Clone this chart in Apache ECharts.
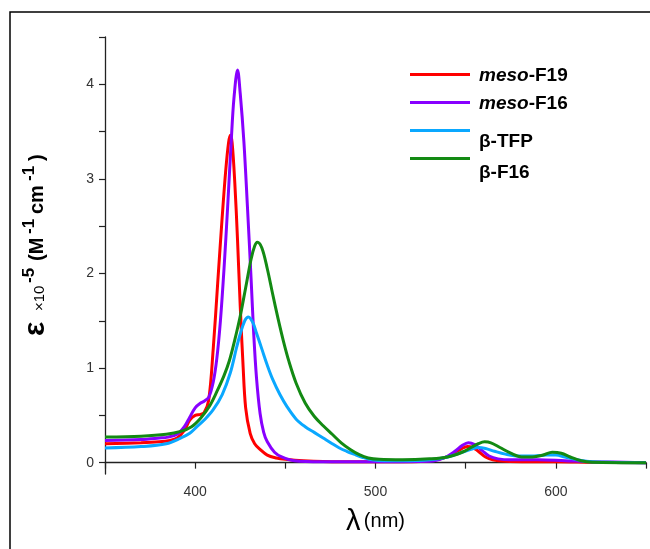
<!DOCTYPE html>
<html><head><meta charset="utf-8">
<script src="https://cdn.jsdelivr.net/npm/echarts@6/dist/echarts.min.js"></script>
<style>html,body{margin:0;padding:0;background:#fff}#c{width:650px;height:549px}</style>
</head><body><div id="c"></div>
<script>
// ---- data ----
const seriesNames = ['meso-F19', 'meso-F16', 'β-TFP', 'β-F16'];
const seriesColors = ['#ff0000', '#8800ff', '#0aa8ff', '#138a13'];

const lamF19 = [350,370,380,386,390,394,397,400,403,405,407.5,410,412.5,415,417,418.5,419.5,420.5,422,423.5,425,426.5,428,430.5,433,436,440,445,450,460,480,500,520,530,538,544,548,551,554,557,561,565,572,585,600,620,650];
const epsF19 = [0.20,0.21,0.22,0.235,0.26,0.34,0.45,0.50,0.51,0.53,0.66,1.20,1.90,2.60,3.10,3.38,3.46,3.38,2.95,2.35,1.65,1.05,0.58,0.31,0.20,0.14,0.08,0.05,0.035,0.02,0.01,0.01,0.01,0.02,0.05,0.10,0.15,0.17,0.16,0.12,0.06,0.03,0.015,0.01,0.01,0.005,0];

const lamF16 = [350,370,380,385,390,394,397,400,403,405,407.5,410,412,414,416,418,420,421.5,423.5,425,427,429,431,432.5,434,436,438,440,444,448,455,470,500,530,538,544,548,551.5,555,559,563,568,575,590,605,620,650];
const epsF16 = [0.235,0.245,0.26,0.27,0.30,0.38,0.48,0.58,0.63,0.65,0.69,0.85,1.10,1.50,2.05,2.70,3.40,3.85,4.15,3.90,3.40,2.70,1.95,1.35,0.90,0.52,0.32,0.22,0.11,0.06,0.02,0.01,0.01,0.015,0.05,0.12,0.18,0.21,0.19,0.13,0.07,0.04,0.03,0.03,0.02,0.01,0];

const lamTFP = [350,370,384,392,397,401,405,410,415,419.5,423,425,427.5,429.5,432,434,437,440,443,447,451,456,461,466,471,476,480,484,488,493,498,505,515,530,540,548,553,557,561,566,572,580,588,595,600,605,612,620,650];
const epsTFP = [0.155,0.17,0.20,0.26,0.31,0.38,0.45,0.56,0.72,0.95,1.22,1.36,1.50,1.54,1.48,1.37,1.20,1.03,0.88,0.72,0.59,0.46,0.38,0.32,0.26,0.20,0.155,0.12,0.09,0.055,0.03,0.02,0.02,0.03,0.06,0.11,0.14,0.16,0.15,0.12,0.09,0.07,0.07,0.08,0.08,0.06,0.03,0.01,0];

const lamBF16 = [350,370,384,392,398,403,408,412,416,419,422,425,428,431,433,434.5,437,440,443,446,449,452,456,461,466,471,476,481,486,491,496,502,515,530,540,548,553,557,560.5,564,569,575,581,587,593,598,603,608,614,620,650];
const epsBF16 = [0.27,0.28,0.30,0.33,0.38,0.47,0.60,0.75,0.92,1.08,1.30,1.55,1.85,2.15,2.29,2.33,2.27,2.05,1.78,1.52,1.28,1.07,0.84,0.63,0.49,0.39,0.30,0.21,0.14,0.085,0.05,0.035,0.03,0.04,0.06,0.11,0.16,0.20,0.22,0.21,0.16,0.10,0.06,0.06,0.08,0.11,0.10,0.06,0.02,0.005,0];

const xTickLabels = [400, 500, 600];
const yTickLabels = [0, 1, 2, 3, 4];
const yTickMarks = [0, 0.5, 1, 1.5, 2, 2.5, 3, 3.5, 4, 4.5];

// ---- chart ----
const lams = [lamF19, lamF16, lamTFP, lamBF16];
const epss = [epsF19, epsF16, epsTFP, epsBF16];
const FONT = '"Liberation Sans", Arial, sans-serif';

const series = seriesNames.map((name, i) => ({
  name: name,
  type: 'line',
  data: lams[i].map((x, j) => [x, epss[i][j]]),
  showSymbol: false,
  symbol: 'none',
  smooth: 0.35,
  lineStyle: { width: 3, color: seriesColors[i] },
  itemStyle: { color: seriesColors[i] },
  emphasis: { disabled: true }
}));

const legendTops = [61, 89, 124, 152];
const legendTextShift = [1, 1, 11, 14];
const legends = seriesNames.map((name, i) => ({
  data: [name],
  left: 405,
  top: legendTops[i],
  orient: 'vertical',
  icon: 'rect',
  itemWidth: 60,
  itemHeight: 3,
  selectedMode: false,
  formatter: n => n.startsWith('meso') ? '{i|meso}{b|' + n.slice(4) + '}' : '{b|' + n + '}',
  textStyle: {
    padding: [legendTextShift[i] * 2, 0, 0, 4],
    rich: {
      i: { fontFamily: FONT, fontSize: 19, fontWeight: 'bold', fontStyle: 'italic', color: '#000' },
      b: { fontFamily: FONT, fontSize: 19, fontWeight: 'bold', color: '#000' }
    }
  }
}));

const supStyle = { font: 'bold 17px ' + FONT, fill: '#000', verticalAlign: 'middle', align: 'left' };
const mainStyle = { font: 'bold 20px ' + FONT, fill: '#000', verticalAlign: 'middle', align: 'left' };

const option = {
  animation: false,
  backgroundColor: '#fff',
  grid: { left: 105, right: 4, top: 37, bottom: 75, containLabel: false },
  legend: legends,
  xAxis: {
    type: 'value', min: 350, max: 650, interval: 50,
    name: '{l|λ} {n|(nm)}', nameLocation: 'middle', nameGap: 33,
    nameTextStyle: { rich: {
      l: { fontFamily: FONT, fontSize: 29, color: '#000' },
      n: { fontFamily: FONT, fontSize: 20, color: '#000' }
    } },
    axisLine: { lineStyle: { color: '#222', width: 1.3 } },
    axisTick: { inside: false, length: 6, lineStyle: { color: '#222', width: 1.2 } },
    axisLabel: { customValues: xTickLabels, margin: 11, fontFamily: FONT, fontSize: 14, color: '#333' },
    splitLine: { show: false }
  },
  yAxis: {
    type: 'value', min: -0.12, max: 4.5,
    axisLine: { show: true, lineStyle: { color: '#222', width: 1.3 } },
    axisTick: { show: true, inside: false, length: 6, customValues: yTickMarks, lineStyle: { color: '#222', width: 1.2 } },
    axisLabel: { customValues: yTickLabels, margin: 11, fontFamily: FONT, fontSize: 14, color: '#333' },
    splitLine: { show: false }
  },
  graphic: [
    { type: 'rect', silent: true, z: -10, shape: { x: 10, y: 12, width: 700, height: 600 },
      style: { fill: 'none', stroke: '#000', lineWidth: 1.5 } },
    { type: 'group', x: 45, y: 336, rotation: Math.PI / 2, silent: true, children: [
      { type: 'text', x: 0, y: -9, style: { text: 'ε', font: 'bold 30px ' + FONT, fill: '#000', verticalAlign: 'middle', align: 'left' } },
      { type: 'text', x: 25, y: -5, style: { text: '×10', font: '15px ' + FONT, fill: '#000', verticalAlign: 'middle', align: 'left' } },
      { type: 'text', x: 53, y: -16, style: Object.assign({ text: '-5' }, supStyle) },
      { type: 'text', x: 75, y: -8, style: Object.assign({ text: '(M' }, mainStyle) },
      { type: 'text', x: 102, y: -16, style: Object.assign({ text: '-1' }, supStyle) },
      { type: 'text', x: 122, y: -8, style: Object.assign({ text: 'cm' }, mainStyle) },
      { type: 'text', x: 155, y: -16, style: Object.assign({ text: '-1' }, supStyle) },
      { type: 'text', x: 175, y: -8, style: Object.assign({ text: ')' }, mainStyle) }
    ] }
  ],
  series: series
};

const chart = echarts.init(document.getElementById('c'), null, { renderer: 'canvas' });
chart.setOption(option);
</script>
</body></html>
